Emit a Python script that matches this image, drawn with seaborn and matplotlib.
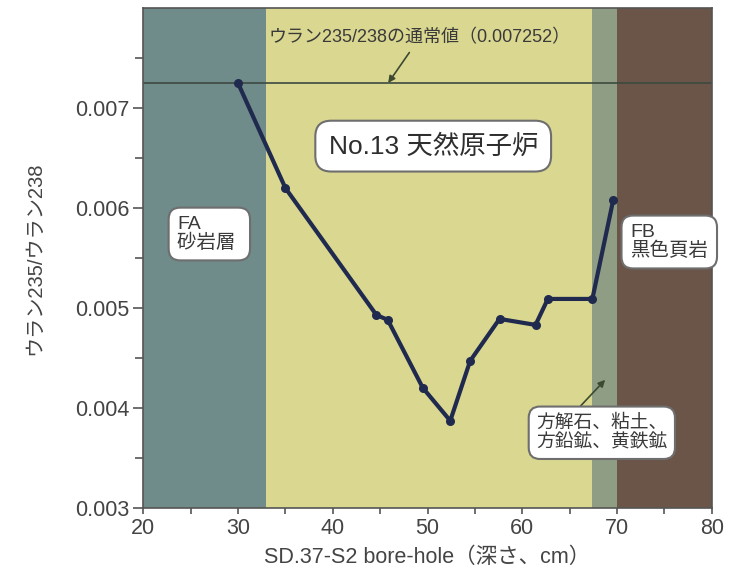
import numpy as np
import pandas as pd
import seaborn as sns
from matplotlib import pyplot as plt
from matplotlib.ticker import MultipleLocator, FixedLocator, FormatStrFormatter

# 深さ(cm) と ウラン235/238 比
depth = [30, 35, 44.6, 45.8, 49.5, 52.4, 54.5, 57.6, 61.4, 62.7, 67.4, 69.6]
ratio = [0.00725, 0.00620, 0.00493, 0.00488, 0.00420, 0.00387, 0.00447,
         0.00489, 0.00483, 0.00509, 0.00509, 0.00608]

# 地層の区間 (開始, 終了)
layer_edges = [20, 33, 67.4, 70, 80]
layer_colors = ['#6f8b8a', '#d9d790', '#8f9d84', '#6b5448']

y_ticks = [0.003, 0.004, 0.005, 0.006, 0.007]
normal_value = 0.007252

sns.set_style('ticks')
plt.rcParams['font.family'] = ['Liberation Sans', 'Noto Sans CJK JP', 'DejaVu Sans']

df = pd.DataFrame({'depth': depth, 'ratio': ratio})

fig = plt.figure(figsize=(7.33, 5.8), dpi=100)
ax = fig.add_axes([0.1955, 0.1247, 0.7755, 0.861])

for i in range(len(layer_colors)):
    ax.axvspan(layer_edges[i], layer_edges[i + 1], color=layer_colors[i], lw=0, zorder=0)

ax.axhline(normal_value, color='#3d4a40', lw=1.2, zorder=1)

sns.lineplot(data=df, x='depth', y='ratio', ax=ax, color='#1f2a4e', lw=3.0,
             marker='o', markersize=6.5, markeredgewidth=0, zorder=3)

ax.set_xlim(20, 80)
ax.set_ylim(0.003, 0.008)
ax.xaxis.set_major_locator(MultipleLocator(10))
ax.xaxis.set_minor_locator(MultipleLocator(5))
ax.yaxis.set_major_locator(FixedLocator(y_ticks))
ax.yaxis.set_minor_locator(FixedLocator([0.0035, 0.0045, 0.0055, 0.0065, 0.0075]))
ax.yaxis.set_major_formatter(FormatStrFormatter('%.3f'))
ax.tick_params(which='both', direction='out', color='#555555', width=1.2, labelcolor='#444444',
               labelsize=15.5, pad=3)
ax.tick_params(axis='y', which='major', length=7)
ax.tick_params(axis='y', which='minor', length=6)
ax.tick_params(axis='x', which='both', length=4.5)
for s in ax.spines.values():
    s.set_color('#555555')
    s.set_linewidth(1.2)

ax.set_xlabel('SD.37-S2 bore-hole（深さ、cm）', fontsize=15.5, color='#444444', labelpad=6)
ax.set_ylabel('ウラン235/ウラン238', fontsize=14.5, color='#444444', labelpad=22)

box = dict(boxstyle='round,pad=0.45,rounding_size=0.6', fc='white', ec='#6e6e6e', lw=1.5)

ax.annotate('ウラン235/238の通常値（0.007252）', xy=(45.85, normal_value), xytext=(49.2, 0.00771),
            ha='center', va='center', fontsize=13, color='#3a3a3a',
            arrowprops=dict(arrowstyle='-|>', color='#3d4a30', lw=1.2, mutation_scale=10,
                            shrinkA=3, shrinkB=0))

ax.text(50.6, 0.00662, 'No.13 天然原子炉', ha='center', va='center', fontsize=19,
        color='#2e2e2e', bbox=dict(boxstyle='round,pad=0.5,rounding_size=0.6', fc='white',
                                   ec='#6e6e6e', lw=1.5))

ax.text(23.6, 0.00574, 'FA\n砂岩層 ', ha='left', va='center', fontsize=14, color='#3a3a3a',
        linespacing=1.0, bbox=box)
ax.text(71.4, 0.00566, 'FB\n黒色頁岩', ha='left', va='center', fontsize=14, color='#3a3a3a',
        linespacing=1.0, bbox=box)

ax.annotate('方解石、粘土、\n方鉛鉱、黄鉄鉱', xy=(68.75, 0.00428), xytext=(68.4, 0.00375),
            ha='center', va='center', fontsize=13.5, color='#3a3a3a', linespacing=1.2,
            bbox=dict(boxstyle='round,pad=0.4,rounding_size=0.6', fc='white', ec='#6e6e6e', lw=1.5),
            arrowprops=dict(arrowstyle='-|>', color='#3d4a30', lw=1.2, mutation_scale=10,
                            shrinkA=0, shrinkB=0, relpos=(0.28, 1.0)))

fig.savefig('out.png', dpi=100)
